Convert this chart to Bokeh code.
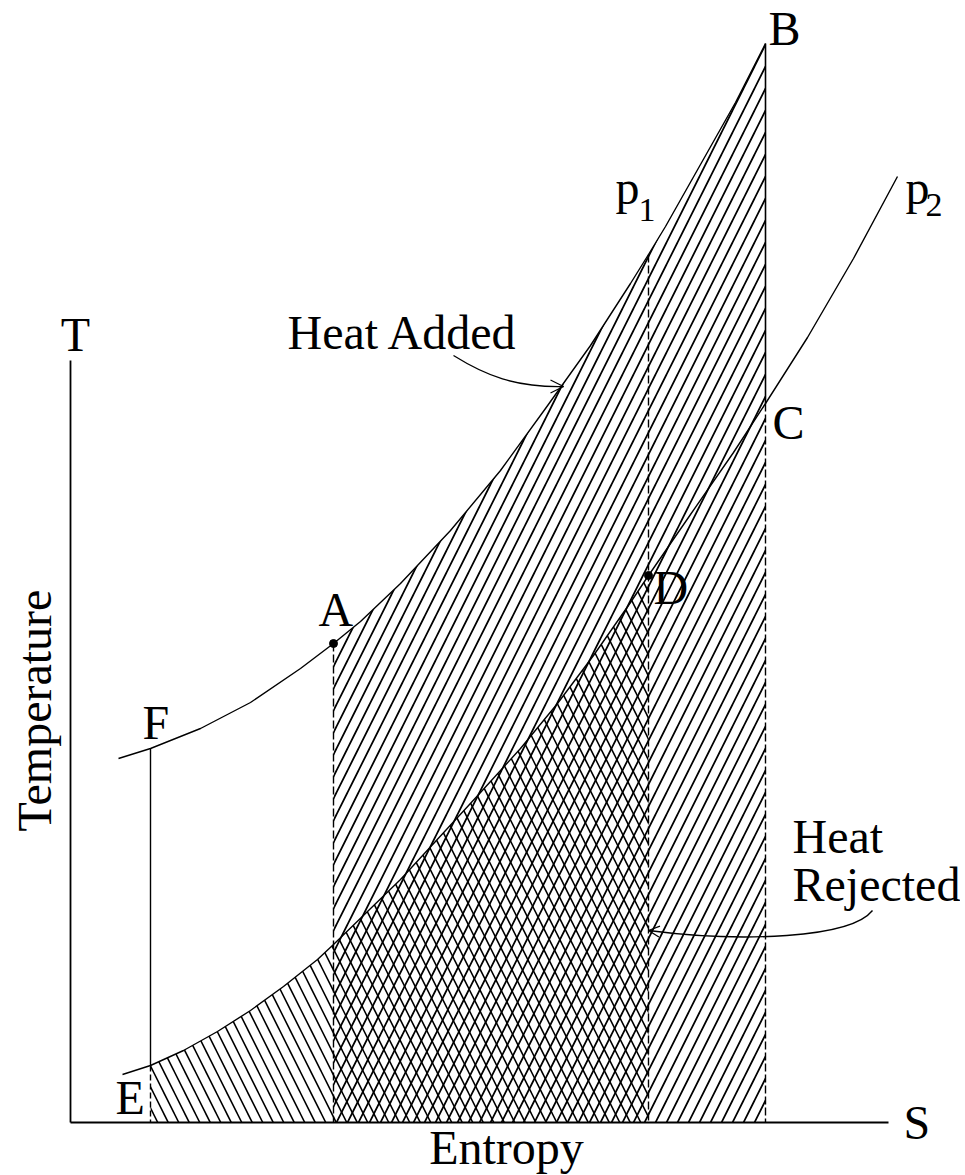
import numpy as np
from bokeh.plotting import figure
from bokeh.models import Arrow, OpenHead
from bokeh.core.properties import value
from bokeh.embed import file_html
from bokeh.resources import INLINE

# ---- data (entropy s, temperature T, arbitrary units) ----
p1_s = [0.48, 0.80, 1.30, 1.80, 2.30, 2.63, 2.90, 3.30, 3.80, 4.30, 4.75, 5.20, 5.60, 5.78, 5.95, 6.30, 6.65, 6.95]
p1_T = [3.64, 3.74, 3.94, 4.20, 4.54, 4.79, 5.01, 5.39, 5.92, 6.52, 7.14, 7.77, 8.39, 8.68, 8.96, 9.58, 10.20, 10.79]
p2_s = [0.52, 0.80, 1.13, 1.47, 1.80, 2.13, 2.47, 2.63, 3.30, 4.10, 4.50, 4.87, 5.23, 5.60, 5.78, 6.20, 6.63, 6.95, 7.37, 7.83, 8.27]
p2_T = [0.48, 0.57, 0.72, 0.91, 1.12, 1.36, 1.63, 1.78, 2.43, 3.30, 3.74, 4.19, 4.67, 5.20, 5.47, 6.08, 6.70, 7.19, 7.85, 8.64, 9.46]

state_names = ["A", "B", "C", "D", "E", "F"]
state_s = [2.63, 6.95, 6.95, 5.78, 0.80, 0.80]
state_curve = ["p1", "p1", "p2", "p2", "p2", "p1"]

s_axis_end = 8.18
T_axis_end = 7.62

FONT = value("Liberation Serif")
FS = "48px"
TY = 0.16  # baseline compensation for text glyphs

def on_curve(name, s):
    if name == "p1":
        return p1_T[p1_s.index(s)]
    return p2_T[p2_s.index(s)]

st = {n: (s, on_curve(c, s)) for n, s, c in zip(state_names, state_s, state_curve)}

p = figure(width=960, height=1175, x_range=(-0.70, 8.90), y_range=(-0.53, 11.22),
           output_backend="svg", toolbar_location=None, min_border=0)
p.axis.visible = False
p.grid.visible = False
p.outline_line_color = None
p.background_fill_color = "white"
p.border_fill_color = "white"

# ---- hatched areas ----
sA, sB = st["A"][0], st["B"][0]
i0, i1 = p1_s.index(sA), p1_s.index(sB)
add_s = p1_s[i0:i1 + 1]
add_T = p1_T[i0:i1 + 1]
p.varea(x=add_s, y1=[0] * len(add_s), y2=add_T, fill_color=None, fill_alpha=0,
        hatch_pattern="/", hatch_color="black", hatch_weight=1.7, hatch_scale=22)

sE, sD = st["E"][0], st["D"][0]
j0, j1 = p2_s.index(sE), p2_s.index(sD)
rej_s = p2_s[j0:j1 + 1]
rej_T = p2_T[j0:j1 + 1]
p.varea(x=rej_s, y1=[0] * len(rej_s), y2=rej_T, fill_color=None, fill_alpha=0,
        hatch_pattern="\\", hatch_color="black", hatch_weight=1.6, hatch_scale=21)

# ---- isobars ----
p.line(p1_s, p1_T, line_color="black", line_width=1.4)
p.line(p2_s, p2_T, line_color="black", line_width=1.4)

# ---- axes ----
p.segment(x0=[0, 0], y0=[0, 0], x1=[s_axis_end, 0], y1=[0, T_axis_end],
          line_color="black", line_width=1.8)

# ---- vertical process lines ----
p.segment(x0=[st["F"][0]], y0=[st["F"][1]], x1=[st["E"][0]], y1=[st["E"][1]],
          line_color="black", line_width=1.4)
p.segment(x0=[st["E"][0]], y0=[st["E"][1]], x1=[st["E"][0]], y1=[0],
          line_color="black", line_width=1.4, line_dash="6 3")
p.segment(x0=[st["B"][0]], y0=[st["B"][1]], x1=[st["C"][0]], y1=[st["C"][1]],
          line_color="black", line_width=1.6)
p.segment(x0=[st["C"][0]], y0=[st["C"][1]], x1=[st["C"][0]], y1=[0],
          line_color="black", line_width=1.4, line_dash="8 3")
p.segment(x0=[st["A"][0]], y0=[st["A"][1]], x1=[st["A"][0]], y1=[0],
          line_color="black", line_width=1.4, line_dash="8 3")
D_top = p1_T[p1_s.index(st["D"][0])]
p.segment(x0=[st["D"][0]], y0=[D_top], x1=[st["D"][0]], y1=[0],
          line_color="black", line_width=1.4, line_dash="8 3")

# ---- state dots ----
p.scatter(x=[st["A"][0], st["D"][0]], y=[st["A"][1], st["D"][1]], size=8,
          fill_color="black", line_color="black")

# ---- labels ----
lab_x = [0.72, 2.48, 0.45, 5.83, 7.02, 6.98]
lab_y = [3.84, 4.97, 0.09, 5.19, 6.84, 10.78]
lab_t = ["F", "A", "E", "D", "C", "B"]
p.text(x=lab_x, y=[v + TY for v in lab_y], text=lab_t, text_font=FONT, text_font_size=FS,
       text_align="left", text_baseline="alphabetic", text_color="black")

p.text(x=[5.45, 8.35], y=[9.19 + TY, 9.19 + TY], text=["p", "p"], text_font=FONT,
       text_font_size=FS, text_align="left", text_baseline="alphabetic")
p.text(x=[5.68, 8.55], y=[8.97 + TY, 9.02 + TY], text=["1", "2"], text_font=FONT,
       text_font_size="34px", text_align="left", text_baseline="alphabetic")

p.text(x=[0.05], y=[7.72 + TY], text=["T"], text_font=FONT, text_font_size=FS,
       text_align="center", text_baseline="alphabetic")
p.text(x=[8.33], y=[-0.16 + TY], text=["S"], text_font=FONT, text_font_size=FS,
       text_align="left", text_baseline="alphabetic")
p.text(x=[4.36], y=[-0.41 + TY], text=["Entropy"], text_font=FONT, text_font_size=FS,
       text_align="center", text_baseline="alphabetic")
p.text(x=[-0.20 - TY], y=[4.12], text=["Temperature"], text_font=FONT, text_font_size=FS,
       text_align="center", text_baseline="alphabetic", angle=np.pi / 2)

p.text(x=[2.17], y=[7.74 + TY], text=["Heat Added"], text_font=FONT, text_font_size=FS,
       text_align="left", text_baseline="alphabetic")
p.text(x=[7.22, 7.22], y=[2.70 + TY, 2.22 + TY], text=["Heat", "Rejected"], text_font=FONT,
       text_font_size=FS, text_align="left", text_baseline="alphabetic")

# ---- leader arrows ----
p.bezier(x0=[3.83], y0=[7.67], x1=[4.93], y1=[7.36], cx0=[4.15], cy0=[7.47],
         cx1=[4.45], cy1=[7.35], line_color="black", line_width=1.3)
p.add_layout(Arrow(end=OpenHead(size=13, line_width=1.3, line_color="black"),
                   x_start=4.83, y_start=7.36, x_end=4.93, y_end=7.36,
                   line_alpha=0))
p.bezier(x0=[8.02], y0=[2.12], x1=[5.78], y1=[1.92], cx0=[7.80], cy0=[1.84],
         cx1=[6.70], cy1=[1.80], line_color="black", line_width=1.3)
p.add_layout(Arrow(end=OpenHead(size=11, line_width=1.3, line_color="black"),
                   x_start=5.88, y_start=1.91, x_end=5.78, y_end=1.92,
                   line_alpha=0))

open("out.html", "w").write(file_html(p, INLINE))
